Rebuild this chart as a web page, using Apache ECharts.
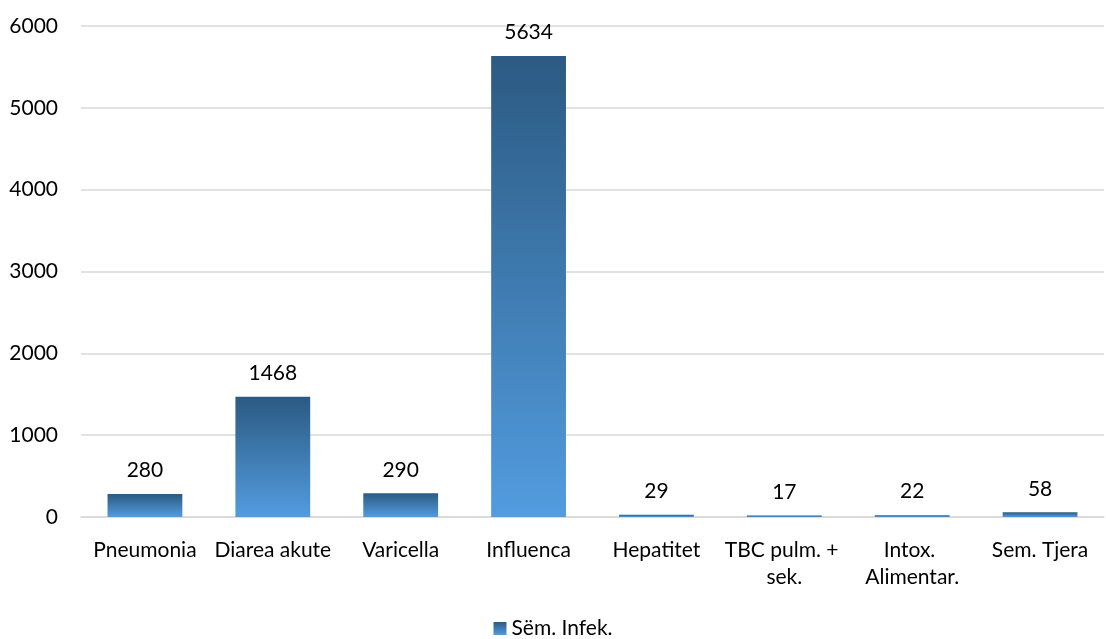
<!DOCTYPE html>
<html>
<head>
<meta charset="utf-8">
<script src="https://cdn.jsdelivr.net/npm/echarts@6/dist/echarts.min.js"></script>
<style>
html,body{margin:0;padding:0;background:#fff;}
#c{width:1106px;height:639px;}
</style>
</head>
<body>
<div id="c"></div>
<script>
const categories = ["Pneumonia", "Diarea akute", "Varicella", "Influenca", "Hepatitet", "TBC pulm. + sek.", "Intox. Alimentar.", "Sem. Tjera"];
const seriesName = "Sëm. Infek.";
const values = [280, 1468, 290, 5634, 29, 17, 22, 58];
const yTicks = [0, 1000, 2000, 3000, 4000, 5000, 6000];

const FONT = "Lato";
const FS = 21;
const grad = new echarts.graphic.LinearGradient(0, 0, 0, 1, [
  {offset: 0, color: '#2c5a82'},
  {offset: 1, color: '#529cdf'}
]);
const chart = echarts.init(document.getElementById('c'));
chart.setOption({
  animation: false,
  textStyle: {fontFamily: FONT},
  grid: {left: 81, right: 1, top: 26, bottom: 122},
  legend: {
    bottom: -5, left: 'center',
    itemWidth: 13, itemHeight: 13, itemGap: 3,
    icon: 'rect',
    textStyle: {fontFamily: FONT, fontSize: FS, color: '#000'},
    data: [seriesName]
  },
  xAxis: {
    type: 'category',
    data: categories,
    axisLine: {show: true, lineStyle: {color: '#d9d9d9', width: 1.5}},
    axisTick: {show: false},
    axisLabel: {
      interval: 0, fontFamily: FONT, fontSize: FS, color: '#000',
      margin: 20, lineHeight: 27, width: 126, overflow: 'break'
    }
  },
  yAxis: {
    type: 'value',
    min: yTicks[0], max: yTicks[yTicks.length - 1], interval: 1000,
    axisLine: {show: false},
    axisTick: {show: false},
    splitLine: {lineStyle: {color: '#d9d9d9', width: 1.5}},
    axisLabel: {fontFamily: FONT, fontSize: FS, color: '#000', margin: 23, formatter: v => String(v)}
  },
  series: [{
    name: seriesName,
    type: 'bar',
    data: values,
    barWidth: '58.5%',
    itemStyle: {color: grad},
    label: {
      show: true, position: 'top', distance: 13,
      fontFamily: FONT, fontSize: FS, color: '#000'
    }
  }]
});
</script>
</body>
</html>
